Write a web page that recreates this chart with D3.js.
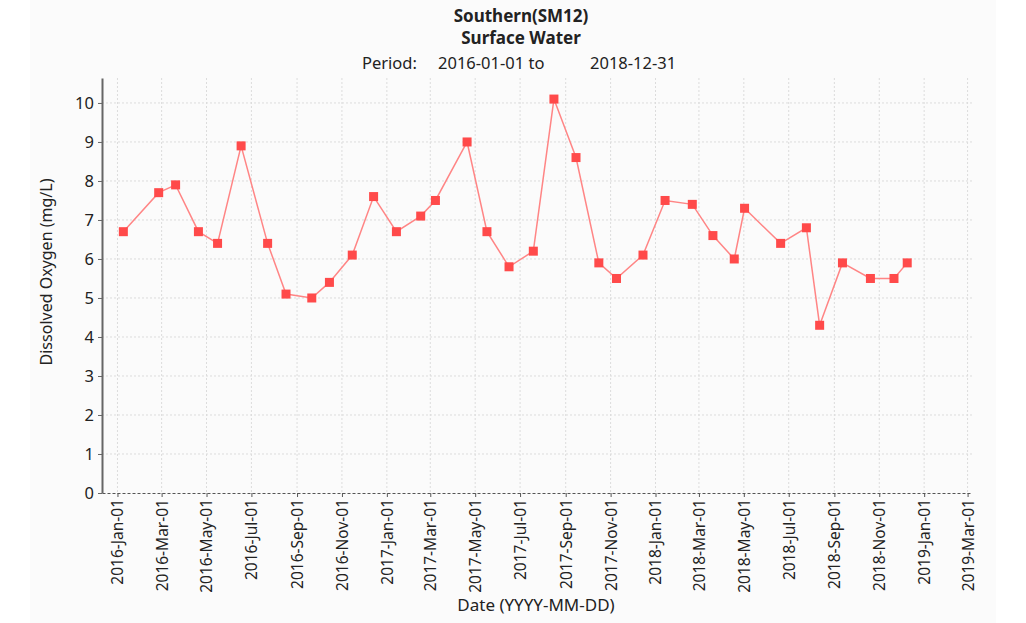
<!DOCTYPE html>
<html>
<head>
<meta charset="utf-8">
<script src="https://cdn.jsdelivr.net/npm/d3@7"></script>
<style>
  body { margin: 0; background: #fff; }
  text { font-family: "Noto Sans", "DejaVu Sans", sans-serif; fill: #222; }
</style>
</head>
<body>
<svg id="chart" width="1026" height="623"></svg>
<script>
// sample dates and dissolved oxygen values (mg/L)
var sampleDates = [
  '2016-01-09', '2016-02-26', '2016-03-20', '2016-04-20', '2016-05-16', '2016-06-17',
  '2016-07-23', '2016-08-17', '2016-09-21', '2016-10-15', '2016-11-15', '2016-12-14',
  '2017-01-14', '2017-02-16', '2017-03-08', '2017-04-20', '2017-05-17', '2017-06-16',
  '2017-07-19', '2017-08-16', '2017-09-15', '2017-10-16', '2017-11-09', '2017-12-15',
  '2018-01-14', '2018-02-20', '2018-03-20', '2018-04-18', '2018-05-02', '2018-06-20',
  '2018-07-25', '2018-08-12', '2018-09-12', '2018-10-20', '2018-11-21', '2018-12-09'
];
var oxygen = [
  6.7, 7.7, 7.9, 6.7, 6.4, 8.9,
  6.4, 5.1, 5.0, 5.4, 6.1, 7.6,
  6.7, 7.1, 7.5, 9.0, 6.7, 5.8,
  6.2, 10.1, 8.6, 5.9, 5.5, 6.1,
  7.5, 7.4, 6.6, 6.0, 7.3, 6.4,
  6.8, 4.3, 5.9, 5.5, 5.5, 5.9
];
var xTicks = [
  '2016-01-01', '2016-03-01', '2016-05-01', '2016-07-01', '2016-09-01', '2016-11-01',
  '2017-01-01', '2017-03-01', '2017-05-01', '2017-07-01', '2017-09-01', '2017-11-01',
  '2018-01-01', '2018-03-01', '2018-05-01', '2018-07-01', '2018-09-01', '2018-11-01',
  '2019-01-01', '2019-03-01'
];
var yTicks = [0, 1, 2, 3, 4, 5, 6, 7, 8, 9, 10];
var xDomain = ['2015-12-11', '2019-03-07'];
var yDomain = [0, 10.64];

var parse = d3.utcParse('%Y-%m-%d');
var fmt = d3.utcFormat('%Y-%b-%d');

var data = sampleDates.map(function(d, i) {
  return { date: parse(d), value: oxygen[i] };
});

var plot = { left: 102, right: 972, top: 78, bottom: 493 };

var svg = d3.select('#chart');

// light panel background
svg.append('rect')
  .attr('x', 30).attr('y', 0)
  .attr('width', 966).attr('height', 623)
  .attr('fill', '#fbfbfb');

var x = d3.scaleUtc()
  .domain(xDomain.map(parse))
  .range([plot.left, plot.right]);

var y = d3.scaleLinear()
  .domain(yDomain)
  .range([plot.bottom, plot.top]);

// titles
svg.append('text')
  .attr('x', 521).attr('y', 22)
  .attr('text-anchor', 'middle')
  .style('font-size', '17px').style('font-weight', 'bold')
  .text('Southern(SM12)');
svg.append('text')
  .attr('x', 521).attr('y', 44)
  .attr('text-anchor', 'middle')
  .style('font-size', '17px').style('font-weight', 'bold')
  .text('Surface Water');
svg.append('text')
  .attr('x', 362).attr('y', 69)
  .style('font-size', '16.5px')
  .text('Period:');
svg.append('text')
  .attr('x', 438).attr('y', 69)
  .style('font-size', '16.5px')
  .text('2016-01-01 to');
svg.append('text')
  .attr('x', 590).attr('y', 69)
  .style('font-size', '16.5px')
  .text('2018-12-31');

// grid
var grid = svg.append('g').attr('class', 'grid');
grid.selectAll('.vgrid')
  .data(xTicks.map(parse))
  .enter().append('line')
  .attr('x1', function(d) { return x(d); })
  .attr('x2', function(d) { return x(d); })
  .attr('y1', plot.top).attr('y2', plot.bottom)
  .attr('stroke', '#dcdcdc').attr('stroke-dasharray', '2,2');
grid.selectAll('.hgrid')
  .data(yTicks.slice(1))
  .enter().append('line')
  .attr('x1', plot.left).attr('x2', plot.right)
  .attr('y1', function(d) { return y(d); })
  .attr('y2', function(d) { return y(d); })
  .attr('stroke', '#dcdcdc').attr('stroke-dasharray', '2,2');

// x axis
var xAxis = svg.append('g')
  .attr('transform', 'translate(0,' + plot.bottom + ')')
  .call(d3.axisBottom(x)
    .tickValues(xTicks.map(parse))
    .tickFormat(fmt)
    .tickSize(4)
    .tickSizeOuter(0));
xAxis.select('.domain')
  .attr('stroke', '#555').attr('stroke-dasharray', '3,2');
xAxis.selectAll('.tick line').attr('stroke', '#555');
xAxis.selectAll('.tick text')
  .style('font-size', '15.5px')
  .attr('fill', '#222')
  .attr('text-anchor', 'end')
  .attr('transform', 'rotate(-90)')
  .attr('x', -6).attr('y', 0).attr('dy', '0.35em');

// y axis
var yAxis = svg.append('g')
  .attr('transform', 'translate(' + plot.left + ',0)')
  .call(d3.axisLeft(y)
    .tickValues(yTicks)
    .tickSize(4)
    .tickSizeOuter(0));
yAxis.select('.domain').attr('stroke', '#666').attr('stroke-width', 2);
yAxis.selectAll('.tick line').attr('stroke', '#666');
yAxis.selectAll('.tick text')
  .style('font-size', '16.5px')
  .attr('fill', '#222')
  .attr('x', -8);

// axis labels
svg.append('text')
  .attr('transform', 'translate(52,272) rotate(-90)')
  .attr('text-anchor', 'middle')
  .style('font-size', '16px')
  .text('Dissolved Oxygen (mg/L)');
svg.append('text')
  .attr('x', 536).attr('y', 611)
  .attr('text-anchor', 'middle')
  .style('font-size', '17px')
  .text('Date (YYYY-MM-DD)');

// series line
var line = d3.line()
  .x(function(d) { return x(d.date); })
  .y(function(d) { return y(d.value); });

svg.append('path')
  .datum(data)
  .attr('d', line)
  .attr('fill', 'none')
  .attr('stroke', '#ff8585')
  .attr('stroke-width', 1.5);

// markers
var size = 9;
svg.selectAll('.marker')
  .data(data)
  .enter().append('rect')
  .attr('class', 'marker')
  .attr('x', function(d) { return x(d.date) - size / 2; })
  .attr('y', function(d) { return y(d.value) - size / 2; })
  .attr('width', size).attr('height', size)
  .attr('fill', '#ff4a4a');
</script>
</body>
</html>
